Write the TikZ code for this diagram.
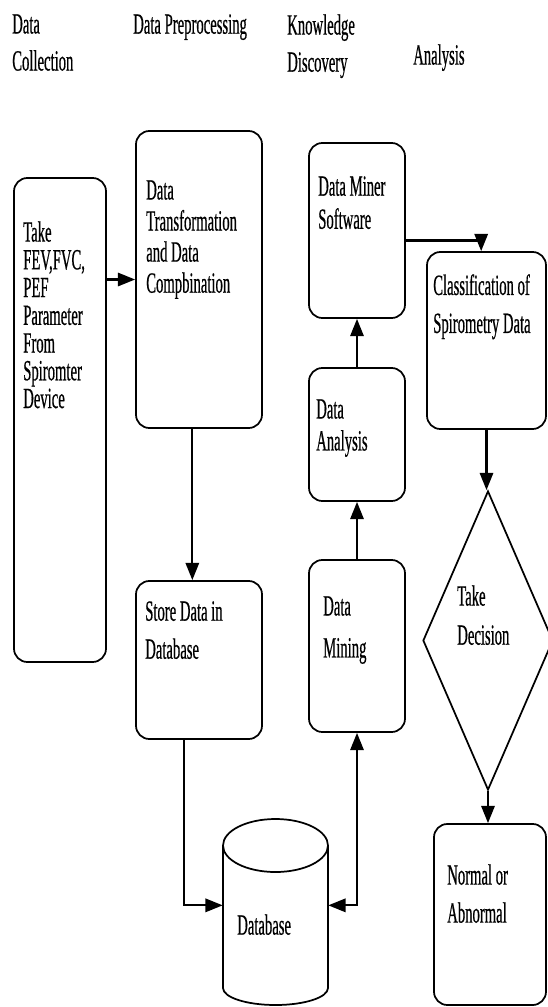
\documentclass[tikz,border=0pt]{standalone}
\usepackage{fontspec}
\setmainfont{Liberation Serif}[FakeStretch=0.5, FakeBold=0.5]
\usetikzlibrary{arrows.meta,shapes.geometric}

\begin{document}
\begin{tikzpicture}[x=0.75pt,y=0.75pt,yscale=-1,xscale=1,
  box/.style={draw, rounded corners=10pt, line width=1.3pt, inner sep=0pt},
  txt/.style={anchor=north west, inner sep=0pt, align=left, font=\fontsize{22}{#1}\selectfont},
  conn/.style={line width=1.7pt, -{Triangle[length=13pt,width=10pt]}},
  dconn/.style={line width=1.7pt, {Triangle[length=13pt,width=10pt]}-{Triangle[length=13pt,width=10pt]}}]
\useasboundingbox (0,0) rectangle (547,1007);
% Text Node
\node[txt=27.8] (hcol) at (12,14) {Data\\Collection};
% Text Node
\node[txt=27.8] (hpre) at (133,14) {Data Preprocessing};
% Text Node
\node[txt=27.8] (hkno) at (287,14) {Knowledge\\Discovery};
% Text Node
\node[txt=27.8] (hana) at (413,44) {Analysis};
%Shape: Rectangle
\node[box, minimum width=69pt, minimum height=363pt] (take) at (60,420) {};
\node[box, minimum width=94.5pt, minimum height=222.75pt] (transf) at (199,279.5) {};
\node[box, minimum width=94.5pt, minimum height=118.5pt] (store) at (199,660) {};
\node[box, minimum width=72pt, minimum height=131.25pt] (miner) at (357,230.5) {};
\node[box, minimum width=72pt, minimum height=99.75pt] (analysis) at (357,434.5) {};
\node[box, minimum width=72pt, minimum height=129pt] (mining) at (357,646) {};
\node[box, minimum width=89.25pt, minimum height=132.75pt] (class) at (486.5,340.5) {};
\node[box, minimum width=84pt, minimum height=135.75pt] (normal) at (490,914.5) {};
%Shape: Diamond
\node[draw, diamond, line width=1.3pt, inner sep=0pt, aspect=0.435, minimum width=97.5pt, minimum height=224.25pt] (dec) at (488,640.5) {};
%Shape: Can
\node[inner sep=0pt, minimum width=78.75pt, minimum height=139.5pt] (db) at (275.5,912) {};
\draw[line width=1.3pt] (275.5,845.5) ellipse [x radius=52.5, y radius=26.5];
\draw[line width=1.3pt] (223,845.5) -- (223,988) arc [start angle=180, end angle=0, x radius=52.5, y radius=17] -- (328,845.5);
% Text Node
\node[txt=20.8] (taketxt) at (23,221) {Take\\FEV,FVC,\\PEF\\Parameter\\From\\Spiromter\\Device};
\node[txt=23.3] (transftxt) at (146,180) {Data\\Transformation\\and Data\\Compbination};
\node[txt=28.5] (storetxt) at (145,601) {Store Data in\\Database};
\node[txt=24.8] (minertxt) at (318,176) {Data Miner\\Software};
\node[txt=24] (analysistxt) at (316,399) {Data\\Analysis};
\node[txt=31.5] (miningtxt) at (323,596) {Data\\Mining};
\node[txt=28.5] (classtxt) at (433,274) {Classification of\\Spirometry Data};
\node[txt=29.3] (dectxt) at (457,585) {Take\\Decision};
\node[txt=28.5] (normaltxt) at (447,864) {Normal or\\Abnormal};
\node[txt=28.5] (dbtxt) at (237,914) {Database};
%Straight Lines
\draw[conn] (take.east |- transf) -- (transf.west);
\draw[conn] ([xshift=-5pt]transf.south) -- ([xshift=-5pt]store.north);
\draw[conn] ([xshift=-11pt]store.south) |- ([yshift=-5pt]db.west);
\draw[dconn] ([yshift=-5pt]db.east) -| (mining.south);
\draw[conn] (mining) -- (analysis);
\draw[conn] (analysis) -- (miner);
\draw[conn] ([yshift=7.5pt]miner.east) -| ([xshift=-4pt]class.north);
\draw[conn] (class.south) -- (class.south |- dec.north);
\draw[conn] (dec.south) -- (dec.south |- normal.north);
\end{tikzpicture}
\end{document}
